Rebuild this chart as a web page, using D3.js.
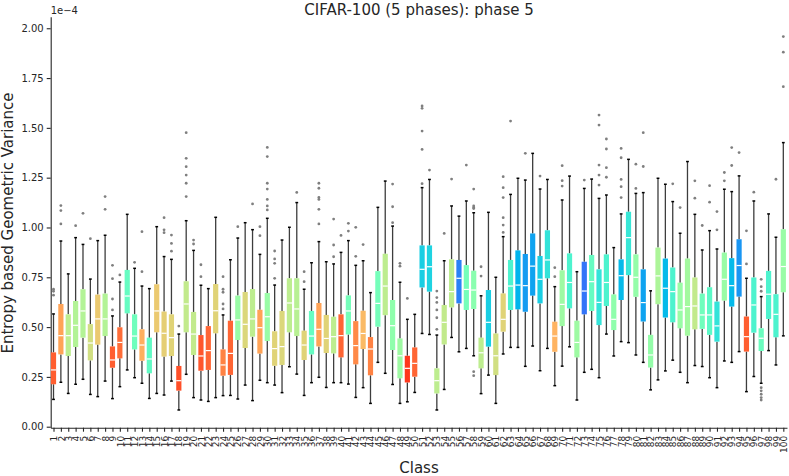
<!DOCTYPE html>
<html>
<head>
<meta charset="utf-8">
<script src="https://cdn.jsdelivr.net/npm/d3@7"></script>
<style>
  body { margin: 0; background: #fff; }
  text { font-family: "DejaVu Sans", sans-serif; fill: #262626; }
</style>
</head>
<body>
<div id="chart"></div>
<script>
// class ids 1..100
var classes = d3.range(1, 101);

// box statistics (units of 1e-4)
var q1Vals = [0.213,0.363,0.355,0.400,0.447,0.333,0.412,0.455,0.296,0.343,
  0.569,0.388,0.331,0.268,0.474,0.352,0.355,0.181,0.474,0.360,
  0.281,0.285,0.469,0.256,0.260,0.435,0.395,0.452,0.367,0.430,
  0.306,0.310,0.474,0.455,0.335,0.363,0.403,0.370,0.368,0.348,
  0.463,0.313,0.390,0.258,0.502,0.560,0.385,0.243,0.222,0.251,
  0.699,0.678,0.167,0.413,0.599,0.619,0.586,0.591,0.293,0.402,
  0.259,0.477,0.586,0.589,0.577,0.658,0.619,0.745,0.376,0.505,
  0.594,0.348,0.564,0.581,0.510,0.606,0.485,0.636,0.761,0.652,
  0.528,0.297,0.615,0.548,0.524,0.494,0.457,0.489,0.491,0.461,
  0.427,0.633,0.603,0.653,0.377,0.472,0.380,0.541,0.449,0.675];
var medianVals = [0.285,0.457,0.457,0.509,0.581,0.420,0.541,0.541,0.335,0.423,
  0.656,0.455,0.410,0.340,0.581,0.469,0.447,0.231,0.616,0.465,
  0.355,0.382,0.582,0.310,0.368,0.536,0.514,0.541,0.497,0.552,
  0.392,0.402,0.621,0.591,0.410,0.455,0.489,0.443,0.452,0.457,
  0.581,0.407,0.468,0.390,0.619,0.706,0.507,0.356,0.293,0.318,
  0.790,0.803,0.231,0.524,0.678,0.745,0.689,0.686,0.371,0.524,
  0.356,0.539,0.706,0.711,0.708,0.806,0.740,0.837,0.455,0.614,
  0.724,0.423,0.681,0.728,0.624,0.724,0.539,0.758,0.949,0.750,
  0.623,0.360,0.757,0.695,0.678,0.586,0.603,0.606,0.561,0.561,
  0.506,0.740,0.708,0.809,0.452,0.611,0.444,0.665,0.564,0.804];
var q3Vals = [0.373,0.616,0.564,0.631,0.690,0.515,0.663,0.668,0.403,0.499,
  0.787,0.564,0.489,0.447,0.715,0.578,0.564,0.305,0.730,0.576,
  0.460,0.505,0.716,0.388,0.532,0.658,0.676,0.691,0.587,0.671,
  0.479,0.581,0.745,0.745,0.482,0.581,0.621,0.561,0.552,0.564,
  0.659,0.530,0.582,0.450,0.781,0.868,0.636,0.443,0.356,0.398,
  0.910,0.910,0.293,0.611,0.840,0.837,0.811,0.783,0.447,0.686,
  0.468,0.669,0.837,0.885,0.867,0.970,0.857,0.986,0.527,0.785,
  0.870,0.532,0.828,0.862,0.790,0.865,0.664,0.840,1.079,0.865,
  0.790,0.461,0.899,0.844,0.799,0.723,0.844,0.749,0.668,0.700,
  0.628,0.874,0.846,0.941,0.553,0.749,0.494,0.782,0.665,0.991];
var whiskerLow = [0.137,0.223,0.167,0.213,0.238,0.162,0.151,0.229,0.141,0.201,
  0.285,0.246,0.218,0.142,0.167,0.159,0.229,0.084,0.263,0.146,
  0.134,0.127,0.146,0.156,0.157,0.139,0.209,0.131,0.233,0.221,
  0.209,0.171,0.301,0.264,0.157,0.221,0.248,0.197,0.221,0.221,
  0.214,0.147,0.196,0.117,0.323,0.268,0.212,0.117,0.125,0.172,
  0.468,0.463,0.084,0.187,0.448,0.376,0.393,0.356,0.166,0.259,
  0.117,0.365,0.398,0.398,0.303,0.405,0.281,0.393,0.206,0.304,
  0.401,0.134,0.273,0.288,0.246,0.465,0.355,0.427,0.422,0.360,
  0.323,0.185,0.235,0.280,0.334,0.273,0.221,0.307,0.302,0.246,
  0.196,0.330,0.323,0.377,0.176,0.252,0.218,0.382,0.310,0.456];
var whiskerHigh = [0.566,0.932,0.767,0.949,0.915,0.741,0.934,0.961,0.556,0.726,
  1.066,0.795,0.706,0.693,1.004,0.854,0.840,0.465,1.034,0.885,
  0.710,0.693,1.051,0.561,0.838,0.947,1.024,0.989,0.865,1.046,
  0.711,0.937,1.001,1.125,0.690,0.823,0.929,0.828,0.817,0.875,
  0.934,0.810,0.833,0.673,1.101,1.233,1.007,0.725,0.539,0.564,
  1.200,1.241,0.460,0.833,1.108,1.057,1.133,1.074,0.657,1.076,
  0.750,0.954,1.166,1.247,1.238,1.372,1.193,1.241,0.703,1.138,
  1.258,0.778,1.196,1.243,1.146,1.163,0.899,1.068,1.342,1.171,
  1.175,0.682,1.247,1.217,1.130,0.971,1.331,1.066,0.887,0.984,
  0.892,1.192,1.180,1.259,0.745,1.133,0.653,1.068,0.951,1.426];
var outlierVals = [
  [0.69,0.68,0.66],[1.11,1.085,1.018],[],[1.009],[1.071],[0.944],[],[1.155,1.091],[0.81,0.743,0.641,0.586],[0.762],
  [],[0.825],[0.979,0.778],[],[],[1.049,0.988,0.974],[0.962,0.92,0.881],[0.505],[1.476,1.347,1.305,1.263,1.222,1.155],[0.937,0.917],
  [0.813,0.753],[],[],[0.753,0.690,0.675,0.616,0.591],[],[1.004],[],[1.118],[1.004,0.959],[1.402,1.356,1.222,1.193,1.141,1.108,1.088],
  [0.882,0.842,0.820,0.745],[],[],[1.176],[0.778,0.728],[],[1.222,1.197,1.151,1.141,1.091,1.018],[],[1.042,0.912,0.853],[0.960],
  [1.021,0.982],[1.001,0.855],[0.914],[],[],[],[1.218,1.104,1.024],[0.82,0.806],[0.644],[],
  [1.61,1.598,1.484,1.392,1.220],[1.288],[0.681,0.648,0.624,0.586,0.547,0.489],[0.970],[1.243],[],[1.313],[1.193,1.108,1.10,1.095,0.276,0.256],[0.803,0.756],[],
  [],[1.255,1.200,1.150,1.049,1.012,0.975],[1.534],[],[1.372],[],[1.258],[],[0.798,0.753],[1.310,1.235,1.208],
  [],[],[1.238],[],[1.564,1.514,1.313,1.263,1.213],[1.444,1.394,1.300,1.252],[],[1.397,1.350,1.241,1.205,1.150],[],[1.318,1.196],
  [1.476,1.306],[],[],[],[1.219],[1.100],[],[1.234,1.147],[1.010],[1.210,1.127],
  [1.080,0.988],[1.276,1.234],[1.401,1.311],[1.376],[0.983,0.817],[1.177],[0.740,0.703,0.680,0.196,0.180,0.163,0.146,0.134],[],[1.242],[1.958,1.880,1.707]
];
// per-class colour score (0 = violet end, 1 = red end of the rainbow map)
var colourScore = [0.88,0.78,0.62,0.60,0.60,0.66,0.71,0.60,0.88,0.86,
  0.45,0.47,0.76,0.44,0.71,0.70,0.69,0.90,0.63,0.63,
  0.89,0.87,0.69,0.83,0.87,0.55,0.68,0.62,0.78,0.55,
  0.69,0.68,0.62,0.61,0.69,0.45,0.78,0.69,0.62,0.87,
  0.48,0.82,0.74,0.83,0.48,0.62,0.53,0.56,0.93,0.87,
  0.30,0.31,0.62,0.63,0.62,0.17,0.48,0.52,0.62,0.30,
  0.66,0.69,0.40,0.25,0.21,0.22,0.30,0.35,0.75,0.56,
  0.40,0.56,0.15,0.45,0.35,0.40,0.53,0.26,0.36,0.54,
  0.22,0.54,0.59,0.26,0.40,0.55,0.57,0.63,0.47,0.43,
  0.35,0.55,0.26,0.20,0.88,0.40,0.46,0.40,0.40,0.55];
var yTicks = [0, 0.25, 0.5, 0.75, 1.0, 1.25, 1.5, 1.75, 2.0];

var w = 789;
var h = 476;
var boxW = 5.2;

var svg = d3.select("#chart")
    .append("svg")
    .attr("width", w)
    .attr("height", h);

var x = d3.scaleLinear().domain([0.62, 100.5]).range([50.7, 787]);
var y = d3.scaleLinear().domain([-0.005, 2.058]).range([427.7, 16.7]);

// matplotlib-like rainbow colormap
function rainbow(t) {
    var r = Math.min(1, Math.abs(2 * t - 0.5));
    var g = Math.sin(Math.PI * t);
    var b = Math.cos(Math.PI * t / 2);
    return d3.rgb(r * 255, g * 255, b * 255).toString();
}
var colour = d3.scaleSequential(rainbow).domain([0, 1]);

var data = classes.map(function (c, i) {
    return {
        cls: c, q1: q1Vals[i], med: medianVals[i], q3: q3Vals[i],
        lo: whiskerLow[i], hi: whiskerHigh[i], out: outlierVals[i], t: colourScore[i]
    };
});

// y axis
var yAxis = svg.append("g")
    .attr("transform", "translate(50.7,0)")
    .call(d3.axisLeft(y).tickValues(yTicks).tickFormat(d3.format(".2f")).tickSize(4).tickSizeOuter(0));
yAxis.selectAll("text").attr("font-size", 10).attr("x", -7);
yAxis.selectAll("line, path").attr("stroke", "#262626").attr("stroke-width", 1.1);

// x axis
var xAxis = svg.append("g")
    .attr("transform", "translate(0,427.7)")
    .call(d3.axisBottom(x).tickValues(classes).tickFormat(d3.format("d")).tickSize(4).tickSizeOuter(0));
xAxis.selectAll("line, path").attr("stroke", "#262626").attr("stroke-width", 1.1);
xAxis.selectAll("text")
    .attr("font-size", 9)
    .attr("fill", "#333")
    .attr("text-anchor", "end")
    .attr("transform", "rotate(-90)")
    .attr("x", -8)
    .attr("y", 0)
    .attr("dy", "0.35em");

var g = svg.selectAll("g.box")
    .data(data)
    .enter()
    .append("g")
    .attr("class", "box");

// whiskers
g.append("line")
    .attr("x1", function (d) { return x(d.cls); })
    .attr("x2", function (d) { return x(d.cls); })
    .attr("y1", function (d) { return y(d.q3); })
    .attr("y2", function (d) { return y(d.hi); })
    .attr("stroke", "#3d3d3d").attr("stroke-width", 1.3);
g.append("line")
    .attr("x1", function (d) { return x(d.cls); })
    .attr("x2", function (d) { return x(d.cls); })
    .attr("y1", function (d) { return y(d.q1); })
    .attr("y2", function (d) { return y(d.lo); })
    .attr("stroke", "#3d3d3d").attr("stroke-width", 1.3);
// caps
g.selectAll("line.cap")
    .data(function (d) { return [{ cls: d.cls, v: d.hi }, { cls: d.cls, v: d.lo }]; })
    .enter()
    .append("line")
    .attr("class", "cap")
    .attr("x1", function (d) { return x(d.cls) - 1.4; })
    .attr("x2", function (d) { return x(d.cls) + 1.4; })
    .attr("y1", function (d) { return y(d.v); })
    .attr("y2", function (d) { return y(d.v); })
    .attr("stroke", "#000").attr("stroke-width", 1.5);

// boxes
g.append("rect")
    .attr("x", function (d) { return x(d.cls) - boxW / 2; })
    .attr("y", function (d) { return y(d.q3); })
    .attr("width", boxW)
    .attr("height", function (d) { return y(d.q1) - y(d.q3); })
    .attr("fill", function (d) { return colour(d.t); });

// medians
g.append("line")
    .attr("x1", function (d) { return x(d.cls) - boxW / 2; })
    .attr("x2", function (d) { return x(d.cls) + boxW / 2; })
    .attr("y1", function (d) { return y(d.med); })
    .attr("y2", function (d) { return y(d.med); })
    .attr("stroke", "#fff").attr("stroke-width", 1.2);

// outliers
g.selectAll("circle")
    .data(function (d) { return d.out.map(function (v) { return { cls: d.cls, v: v }; }); })
    .enter()
    .append("circle")
    .attr("cx", function (d) { return x(d.cls); })
    .attr("cy", function (d) { return y(d.v); })
    .attr("r", 1.4)
    .attr("fill", "#7f7f7f");

// texts
svg.append("text")
    .attr("x", 419).attr("y", 14.5)
    .attr("text-anchor", "middle")
    .attr("font-size", 15)
    .text("CIFAR-100 (5 phases): phase 5");
svg.append("text")
    .attr("x", 50.7).attr("y", 14)
    .attr("font-size", 10)
    .text("1e\u22124");
svg.append("text")
    .attr("transform", "translate(13,223) rotate(-90)")
    .attr("text-anchor", "middle")
    .attr("font-size", 15)
    .text("Entropy based Geometric Variance");
svg.append("text")
    .attr("x", 419).attr("y", 472.5)
    .attr("text-anchor", "middle")
    .attr("font-size", 15)
    .text("Class");
</script>
</body>
</html>
